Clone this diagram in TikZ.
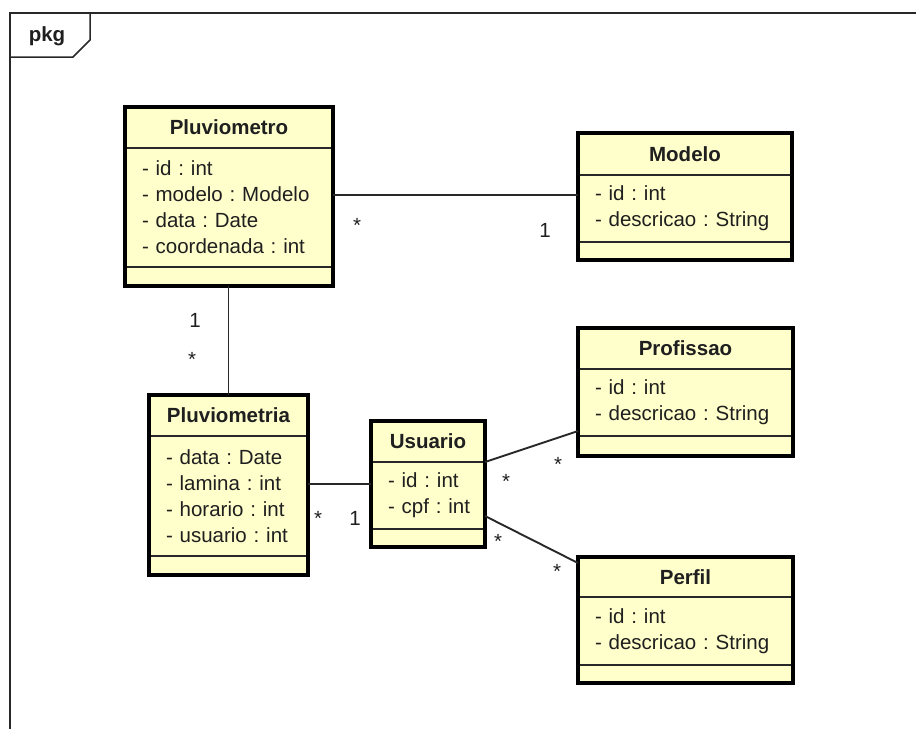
\documentclass[tikz,border=0pt]{standalone}
\usepackage{fontspec}
\setmainfont{Liberation Sans}
\usetikzlibrary{positioning}
\definecolor{classfill}{RGB}{255,255,204}
\definecolor{linegray}{RGB}{40,40,40}
\tikzset{
  x=1pt, y=-1pt,
  every node/.style={outer sep=0pt, font=\fontsize{20.5}{26}\selectfont, text=black!88},
  head/.style={draw=linegray, line width=1.2pt, fill=classfill, inner sep=0pt,
    font=\fontsize{20.5}{26}\selectfont\bfseries},
  attrs/.style={draw=linegray, line width=1.2pt, fill=classfill, align=left,
    inner xsep=17pt, inner ysep=0pt},
  ops/.style={draw=linegray, line width=1.2pt, fill=classfill, inner sep=0pt},
  border/.style={line width=3.6pt},
  assoc/.style={draw=linegray, line width=1.9pt},
  frame/.style={draw=linegray, line width=1.5pt},
  mult/.style={inner sep=0pt},
}

\begin{document}
\frenchspacing
\begin{tikzpicture}
  \useasboundingbox (0,0) rectangle (916,729);

  % package frame
  \draw[frame] (10,729) -- (10,13) -- (916,13);
  \draw[frame] (10,57) -- (73,57) -- (90,40) -- (90,13);
  \node[font=\fontsize{20.5}{24}\selectfont\bfseries] (pkg) at (47,36) {pkg};

  % classes
  \node[head, minimum width=208pt, minimum height=41pt] (pluviometro) at (229,127.5) {Pluviometro};
  \node[attrs, text width=174pt, minimum height=119pt, below=0pt of pluviometro] (pluviometro-attr)
    {- id : int\\- modelo : Modelo\\- data : Date\\- coordenada : int};
  \node[ops, minimum width=208pt, minimum height=19pt, below=0pt of pluviometro-attr] (pluviometro-ops) {};
  \draw[border] (pluviometro.north west) rectangle (pluviometro-ops.south east);

  \node[head, minimum width=214pt, minimum height=42pt] (modelo) at (685,154) {Modelo};
  \node[attrs, text width=180pt, minimum height=67pt, below=0pt of modelo] (modelo-attr)
    {- id : int\\- descricao : String};
  \node[ops, minimum width=214pt, minimum height=18pt, below=0pt of modelo-attr] (modelo-ops) {};
  \draw[border] (modelo.north west) rectangle (modelo-ops.south east);

  \node[head, minimum width=159pt, minimum height=41pt] (pluviometria) at (228.5,415.5) {Pluviometria};
  \node[attrs, text width=125pt, minimum height=120pt, below=0pt of pluviometria] (pluviometria-attr)
    {- data : Date\\- lamina : int\\- horario : int\\- usuario : int};
  \node[ops, minimum width=159pt, minimum height=19pt, below=0pt of pluviometria-attr] (pluviometria-ops) {};
  \draw[border] (pluviometria.north west) rectangle (pluviometria-ops.south east);

  \node[head, minimum width=114pt, minimum height=41pt] (usuario) at (428,441.5) {Usuario};
  \node[attrs, text width=80pt, minimum height=67pt, below=0pt of usuario] (usuario-attr)
    {\mbox{- id : int}\\\mbox{- cpf : int}};
  \node[ops, minimum width=114pt, minimum height=18pt, below=0pt of usuario-attr] (usuario-ops) {};
  \draw[border] (usuario.north west) rectangle (usuario-ops.south east);

  \node[head, minimum width=215pt, minimum height=41pt] (profissao) at (685.5,348.5) {Profissao};
  \node[attrs, text width=181pt, minimum height=67pt, below=0pt of profissao] (profissao-attr)
    {- id : int\\- descricao : String};
  \node[ops, minimum width=215pt, minimum height=20pt, below=0pt of profissao-attr] (profissao-ops) {};
  \draw[border] (profissao.north west) rectangle (profissao-ops.south east);

  \node[head, minimum width=215pt, minimum height=40pt] (perfil) at (685.5,577) {Perfil};
  \node[attrs, text width=181pt, minimum height=68pt, below=0pt of perfil] (perfil-attr)
    {- id : int\\- descricao : String};
  \node[ops, minimum width=215pt, minimum height=18pt, below=0pt of perfil-attr] (perfil-ops) {};
  \draw[border] (perfil.north west) rectangle (perfil-ops.south east);

  % associations
  \draw[assoc] ([yshift=13.5pt]modelo-attr.west) -- ([yshift=13.5pt]modelo-attr.west -| pluviometro-attr.east);
  \draw[assoc] (pluviometria.north) -- (pluviometria.north |- pluviometro-ops.south);
  \draw[assoc] ([yshift=12pt]pluviometria-attr.east) -- ([yshift=12pt]pluviometria-attr.east -| usuario-attr.west);
  \draw[assoc] (usuario-attr.north east) -- ([yshift=5pt]profissao-attr.south west);
  \draw[assoc] ([yshift=-20.5pt]usuario-attr.east) -- ([yshift=-6pt]perfil.north west);

  % multiplicities
  \node[mult] (m-pm-a) at (357,225) {*};
  \node[mult] (m-pm-b) at (545,230) {1};
  \node[mult] (m-pp-a) at (195,320) {1};
  \node[mult] (m-pp-b) at (192,359) {*};
  \node[mult] (m-pu-a) at (318,518) {*};
  \node[mult] (m-pu-b) at (355,518) {1};
  \node[mult] (m-up-a) at (506,481) {*};
  \node[mult] (m-up-b) at (558,464) {*};
  \node[mult] (m-uf-a) at (498,541) {*};
  \node[mult] (m-uf-b) at (557,571) {*};
\end{tikzpicture}
\end{document}
